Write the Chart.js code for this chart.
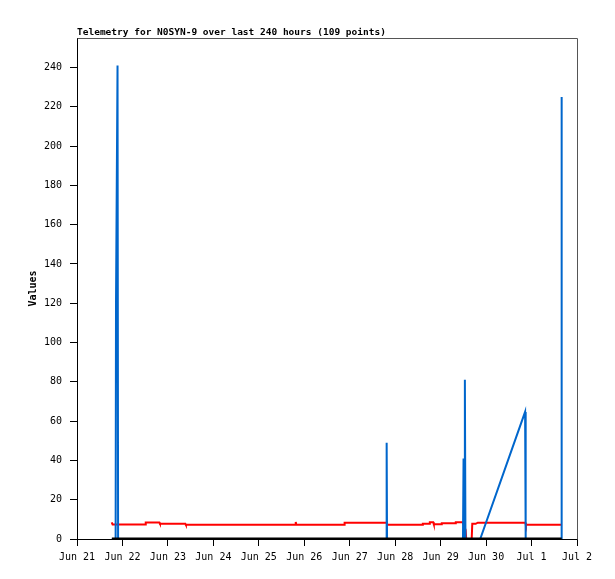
<!DOCTYPE html>
<html>
<head>
<meta charset="utf-8">
<title>Telemetry for N0SYN-9</title>
<script src="https://cdn.jsdelivr.net/npm/chart.js@4.4.1/dist/chart.umd.min.js"></script>
<style>
  html, body { margin: 0; padding: 0; background: #fff; }
  canvas { display: block; }
</style>
</head>
<body>
<canvas id="telemetryChart" width="615" height="579"></canvas>
<script>
// x values are hours since Jun 21 00:00
const dayLabels = ['Jun 21', 'Jun 22', 'Jun 23', 'Jun 24', 'Jun 25', 'Jun 26',
                   'Jun 27', 'Jun 28', 'Jun 29', 'Jun 30', 'Jul 1', 'Jul 2']

const blueHours  = [18.4, 20.4, 20.6, 21.4, 21.7, 163.3, 163.5, 163.7, 203.8, 204.1, 204.4, 204.8, 205.1, 212.9, 236.6, 236.9, 255.6, 255.9]
const blueValues = [0,    0,    121,  241,  0,    0,     49,    0,     0,     41,    0,     81,    0,     0,     64.7,  0,     0,     225]

const redHours  = [18.3, 18.8, 36.0, 36.3, 43.5, 43.8, 57.2, 57.5, 115.3, 115.5, 115.8, 141.0, 141.3, 163.6, 163.9,
                   182.3, 182.6, 186.0, 186.3, 188.1, 188.4, 192.3, 192.6, 199.7, 200.0, 203.6, 205.2, 205.5,
                   208.4, 208.7, 210.5, 211.6, 236.7, 237.0, 255.9]
const redValues = [8.5, 7.4, 7.4, 8.4, 8.4, 7.8, 7.8, 7.2, 7.2, 8.7, 7.2, 7.2, 8.3, 8.3, 7.3,
                   7.3, 7.8, 7.8, 8.5, 8.5, 7.5, 7.5, 8.0, 8.0, 8.5, 8.5, 4.6, 0,
                   0, 7.7, 7.7, 8.3, 8.3, 7.2, 7.2]

const blackHours  = [18.4, 255.9]
const blackValues = [0, 0]

const titleText = 'Telemetry for N0SYN-9 over last 240 hours (109 points)'

function toPoints(xs, ys) {
    let pts = new Array()
    for (let i = 0; i < xs.length; i++) {
        pts.push({x: xs[i], y: ys[i]})
    }
    return pts
}

// title over the plot + grey top/right frame
const framePlugin = {
    id: 'frame',
    beforeDatasetsDraw(chart) {
        const ctx = chart.ctx
        const a = chart.chartArea
        ctx.save()
        ctx.strokeStyle = '#555555'
        ctx.lineWidth = 1
        ctx.beginPath()
        ctx.moveTo(Math.round(a.left) + 0.5, Math.round(a.top) + 0.5)
        ctx.lineTo(Math.round(a.right) + 0.5, Math.round(a.top) + 0.5)
        ctx.lineTo(Math.round(a.right) + 0.5, Math.round(a.bottom) + 0.5)
        ctx.stroke()
        ctx.restore()
    },
    afterDraw(chart) {
        const ctx = chart.ctx
        ctx.save()
        ctx.fillStyle = '#000'
        ctx.font = 'bold 9.5px "DejaVu Sans Mono"'
        ctx.textBaseline = 'alphabetic'
        ctx.fillText(titleText, chart.chartArea.left, 35)
        ctx.restore()
    }
}

const tickFont = {family: '"DejaVu Sans Mono"', size: 10}

new Chart(document.getElementById('telemetryChart'), {
    type: 'line',
    data: {
        datasets: [
            {label: 'zero', data: toPoints(blackHours, blackValues), borderColor: '#000000', borderWidth: 3},
            {label: 'blue', data: toPoints(blueHours, blueValues), borderColor: '#0066cc', borderWidth: 2},
            {label: 'red', data: toPoints(redHours, redValues), borderColor: '#ff0000', borderWidth: 2}
        ]
    },
    options: {
        responsive: false,
        animation: false,
        devicePixelRatio: 1,
        layout: {padding: {top: 38, right: 38, left: 0, bottom: 0}},
        elements: {
            point: {radius: 0},
            line: {tension: 0, borderJoinStyle: 'miter', borderCapStyle: 'butt'}
        },
        plugins: {
            legend: {display: false},
            tooltip: {enabled: false},
            title: {display: false}
        },
        scales: {
            x: {
                type: 'linear',
                min: 0,
                max: 264,
                afterFit: function (scale) { scale.height = 40 },
                afterBuildTicks: function (scale) {
                    scale.ticks = dayLabels.map((l, i) => ({value: i * 24}))
                },
                grid: {drawOnChartArea: false, drawTicks: true, tickLength: 7, color: '#000'},
                border: {color: '#000', width: 1},
                ticks: {
                    font: tickFont,
                    color: '#000',
                    padding: 5,
                    maxRotation: 0,
                    autoSkip: false,
                    callback: function (v, i) { return dayLabels[i] }
                }
            },
            y: {
                type: 'linear',
                min: 0,
                max: 255,
                afterFit: function (scale) { scale.width = 77 },
                grid: {drawOnChartArea: false, drawTicks: true, tickLength: 7, color: '#000'},
                border: {color: '#000', width: 1},
                ticks: {
                    font: tickFont,
                    color: '#000',
                    stepSize: 20,
                    includeBounds: false,
                    padding: 8
                },
                title: {
                    display: true,
                    text: 'Values',
                    color: '#000',
                    font: {family: '"DejaVu Sans Mono"', size: 10, weight: 'bold'},
                    padding: {top: 27, bottom: 0}
                }
            }
        }
    },
    plugins: [framePlugin]
})
</script>
</body>
</html>
